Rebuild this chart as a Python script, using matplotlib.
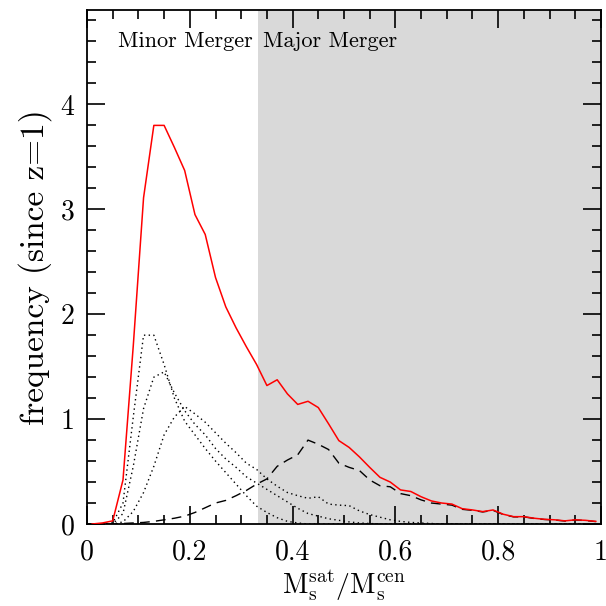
import numpy as np
import matplotlib
matplotlib.use("Agg")
import matplotlib.pyplot as plt
from matplotlib.ticker import MultipleLocator, FixedLocator, FixedFormatter

plt.rcParams['font.family'] = ['cmr10', 'DejaVu Serif']
plt.rcParams['mathtext.fontset'] = 'cm'
plt.rcParams['axes.formatter.use_mathtext'] = True

# bin centres of the mass-ratio histogram
ratio = np.round(np.arange(0.01, 1.0, 0.02), 2)

total = [0.0, 0.01, 0.03, 0.42, 1.70, 3.11, 3.80, 3.80, 3.59, 3.37,
         2.95, 2.76, 2.35, 2.07, 1.87, 1.69, 1.52, 1.32, 1.375, 1.24,
         1.14, 1.17, 1.11, 0.955, 0.795, 0.73, 0.64, 0.54, 0.445, 0.40,
         0.325, 0.31, 0.26, 0.22, 0.20, 0.19, 0.146, 0.134, 0.118, 0.134,
         0.093, 0.07, 0.07, 0.055, 0.045, 0.04, 0.03, 0.04, 0.035, 0.025]

dotted_a = [0.0, 0.0, 0.01, 0.20, 1.02, 1.80, 1.80, 1.52, 1.20, 0.98,
            0.85, 0.72, 0.60, 0.49, 0.38, 0.27, 0.17, 0.11, 0.06, 0.025,
            0.01, 0.0, 0.0, 0.0, 0.0, 0.0, 0.0, 0.0, 0.0, 0.0,
            0.0, 0.0, 0.0, 0.0, 0.0, 0.0, 0.0, 0.0, 0.0, 0.0,
            0.0, 0.0, 0.0, 0.0, 0.0, 0.0, 0.0, 0.0, 0.0, 0.0]

dotted_b = [0.0, 0.0, 0.0, 0.10, 0.55, 1.10, 1.40, 1.45, 1.25, 1.08,
            0.95, 0.85, 0.72, 0.62, 0.54, 0.45, 0.39, 0.33, 0.27, 0.21,
            0.15, 0.10, 0.075, 0.05, 0.035, 0.02, 0.01, 0.005, 0.0, 0.0,
            0.0, 0.0, 0.0, 0.0, 0.0, 0.0, 0.0, 0.0, 0.0, 0.0,
            0.0, 0.0, 0.0, 0.0, 0.0, 0.0, 0.0, 0.0, 0.0, 0.0]

dotted_c = [0.0, 0.0, 0.0, 0.02, 0.12, 0.30, 0.55, 0.85, 1.02, 1.12,
            1.05, 0.97, 0.87, 0.77, 0.68, 0.58, 0.52, 0.43, 0.36, 0.30,
            0.27, 0.245, 0.26, 0.19, 0.18, 0.175, 0.125, 0.09, 0.065, 0.04,
            0.025, 0.015, 0.01, 0.005, 0.0, 0.0, 0.0, 0.0, 0.0, 0.0,
            0.0, 0.0, 0.0, 0.0, 0.0, 0.0, 0.0, 0.0, 0.0, 0.0]

dashed = [0.0, 0.0, 0.0, 0.005, 0.01, 0.015, 0.025, 0.04, 0.055, 0.075,
          0.11, 0.155, 0.20, 0.225, 0.27, 0.32, 0.38, 0.43, 0.55, 0.61,
          0.66, 0.80, 0.76, 0.71, 0.58, 0.54, 0.51, 0.42, 0.365, 0.355,
          0.29, 0.27, 0.23, 0.20, 0.19, 0.18, 0.14, 0.13, 0.115, 0.13,
          0.09, 0.068, 0.068, 0.053, 0.043, 0.038, 0.028, 0.038, 0.033, 0.023]

major_threshold = 1.0 / 3.0
region_labels = ["Minor Merger", "Major Merger"]
x_ticks = [0, 0.2, 0.4, 0.6, 0.8, 1.0]
x_ticklabels = ["0", "0.2", "0.4", "0.6", "0.8", "1"]
y_ticks = [0, 1, 2, 3, 4]
y_ticklabels = ["0", "1", "2", "3", "4"]

fig = plt.figure(figsize=(6.06, 6.06), dpi=100)
ax = fig.add_axes([0.1436, 0.1353, 0.8481, 0.8482])

ax.axvspan(major_threshold, 1.0, color="#d9d9d9", lw=0, zorder=0)

for d in (dotted_a, dotted_b, dotted_c):
    ax.plot(ratio, d, color="black", lw=1.0, ls=(0, (1, 2.4)), zorder=2)
ax.plot(ratio, dashed, color="black", lw=1.0, ls=(0, (7, 4.5)), zorder=2)
ax.plot(ratio, total, color="red", lw=1.1, zorder=3)

ax.set_xlim(0, 1)
ax.set_ylim(0, 4.9)

ax.xaxis.set_major_locator(FixedLocator(x_ticks))
ax.xaxis.set_major_formatter(FixedFormatter(x_ticklabels))
ax.xaxis.set_minor_locator(MultipleLocator(0.05))
ax.yaxis.set_major_locator(FixedLocator(y_ticks))
ax.yaxis.set_major_formatter(FixedFormatter(y_ticklabels))
ax.yaxis.set_minor_locator(MultipleLocator(0.2))

ax.tick_params(which="both", direction="in", top=True, right=True,
               width=1.2, colors="black")
ax.tick_params(which="major", length=13)
ax.tick_params(which="minor", length=6.5)
ax.tick_params(axis="x", which="major", labelsize=20, pad=11)
ax.tick_params(axis="y", which="major", labelsize=20, pad=9)

for s in ax.spines.values():
    s.set_linewidth(1.3)

ax.set_xlabel(r"$\mathrm{M_s^{sat}/M_s^{cen}}$", fontsize=20, labelpad=2)
ax.set_ylabel("frequency (since z=1)", fontsize=24, labelpad=6)

ax.text(0.06, 4.6, region_labels[0], fontsize=16, ha="left", va="center")
ax.text(0.342, 4.6, region_labels[1], fontsize=16, ha="left", va="center")

fig.savefig("out.png", dpi=100)
